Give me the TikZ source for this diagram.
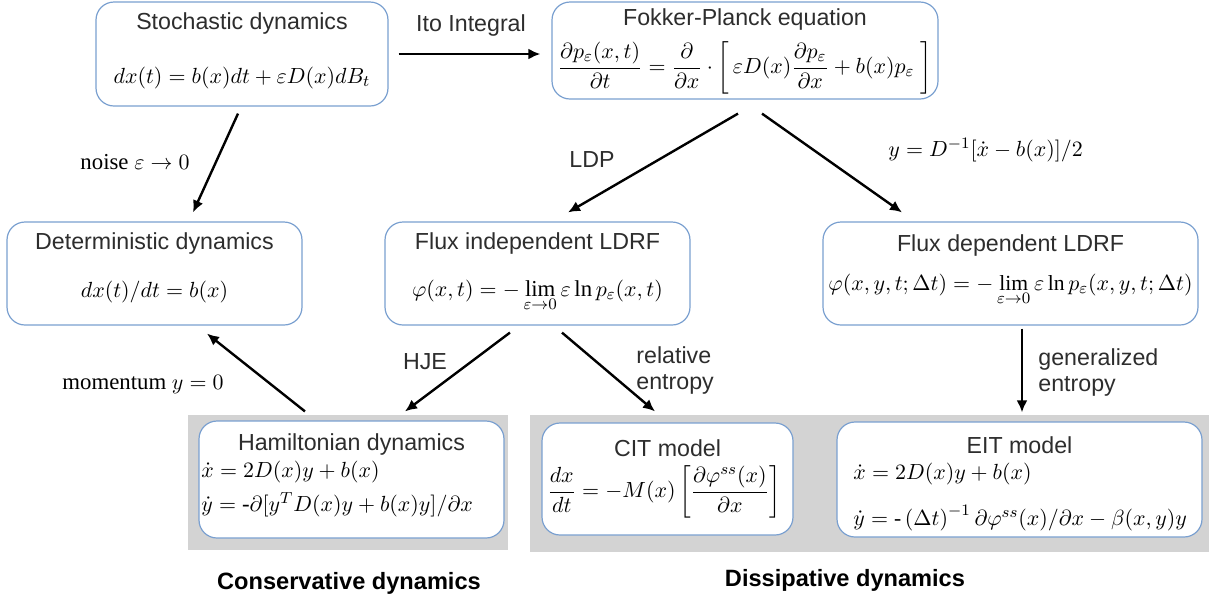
\documentclass[tikz,border=0pt]{standalone}
\usepackage{amsmath}
\usepackage{fontspec}
\setmainfont{Liberation Serif}
\setsansfont{Liberation Sans}
\usepackage{tikz}
\usetikzlibrary{arrows.meta,positioning}
\definecolor{boxline}{RGB}{122,160,208}
\definecolor{panelgray}{RGB}{211,211,211}
\definecolor{titlegray}{RGB}{45,45,45}
\tikzset{
	box/.style={draw=boxline, line width=0.6pt, rounded corners=9pt, fill=white, inner sep=0pt},
	panel/.style={fill=panelgray, inner sep=0pt},
	title/.style={font=\sffamily\fontsize{11.6}{13}\selectfont, text=titlegray, inner sep=0pt},
	formula/.style={font=\fontsize{11.4}{13}\selectfont, inner sep=0pt},
	smallformula/.style={font=\fontsize{10.8}{12}\selectfont, inner sep=0pt},
	lbl/.style={font=\sffamily\fontsize{11.6}{13}\selectfont, text=titlegray, inner sep=1pt},
	arr/.style={line width=1.2pt, -{Latex[length=6pt,width=5.5pt]}},
}
\begin{document}
\begin{tikzpicture}[x=0.5pt,y=-0.5pt]
		\useasboundingbox (0,0) rectangle (1217,602);
		\node[panel, minimum width=160pt, minimum height=67.5pt] (conspanel) at (348,482.5) {};
		\node[panel, minimum width=339.5pt, minimum height=68.5pt] (disspanel) at (869.5,483.5) {};

		\node[box, minimum width=146pt, minimum height=52pt] (stoch) at (242,54) {};
		\node[box, minimum width=193pt, minimum height=48.5pt] (fp) at (745,50.5) {};
		\node[box, minimum width=147.5pt, minimum height=51.5pt] (det) at (154.5,273.5) {};
		\node[box, minimum width=152.5pt, minimum height=51.5pt] (fli) at (537.5,273.5) {};
		\node[box, minimum width=187.5pt, minimum height=51.5pt] (fld) at (1010.5,273.5) {};
		\node[box, minimum width=152.5pt, minimum height=58.5pt] (ham) at (351.5,479.5) {};
		\node[box, minimum width=125.5pt, minimum height=56pt] (cit) at (667.5,479) {};
		\node[box, minimum width=182.5pt, minimum height=57.5pt] (eit) at (1019.5,479.5) {};

		\node[title] (stochtitle) at (242,23) {Stochastic dynamics};
		\node[smallformula] (stocheq) at (242,78) {$dx(t)=b(x)dt+\varepsilon D(x)dB_t$};
		\node[title] (fptitle) at (745,19) {Fokker-Planck equation};
		\node[smallformula] (fpeq) at (745,68) {$\dfrac{\partial p_\varepsilon(x,t)}{\partial t}=\dfrac{\partial}{\partial x}\cdot\left[\,\varepsilon D(x)\dfrac{\partial p_\varepsilon}{\partial x}+b(x)p_\varepsilon\;\right]$};
		\node[title] (dettitle) at (154.5,243) {Deterministic dynamics};
		\node[formula] (deteq) at (154.5,292) {$dx(t)/dt=b(x)$};
		\node[title] (flititle) at (537.5,243) {Flux independent LDRF};
		\node[formula, anchor=base] (flieq) at (537.5,296) {$\varphi(x,t)=-\lim\limits_{\varepsilon\to0}\varepsilon\ln p_\varepsilon(x,t)$};
		\node[title] (fldtitle) at (1010.5,245) {Flux dependent LDRF};
		\node[smallformula, anchor=base] (fldeq) at (1010.5,290) {$\varphi(x,y,t;\Delta t)=-\lim\limits_{\varepsilon\to0}\varepsilon\ln p_\varepsilon(x,y,t;\Delta t)$};
		\node[title] (hamtitle) at (351.5,444) {Hamiltonian dynamics};
		\node[formula, anchor=west] (hamxeq) at (201,472) {$\dot x=2D(x)y+b(x)$};
		\node[formula, anchor=west] (hamyeq) at (201,505) {$\dot y=\mbox{-}\partial[y^TD(x)y+b(x)y]/\partial x$};
		\node[title] (cittitle) at (667.5,448) {CIT model};
		\node[formula] (citeq) at (664,492) {$\dfrac{dx}{dt}=-M(x)\left[\dfrac{\partial\varphi^{ss}(x)}{\partial x}\right]$};
		\node[title] (eittitle) at (1019.5,445) {EIT model};
		\node[formula, anchor=west] (eitxeq) at (853,474) {$\dot x=2D(x)y+b(x)$};
		\node[smallformula, anchor=west] (eityeq) at (853,518) {$\dot y=\mbox{-}\left(\Delta t\right)^{-1}\partial\varphi^{ss}(x)/\partial x-\beta(x,y)y$};

		\node[lbl] (itolbl) at (471,25) {Ito Integral};
		\node[formula] (noiselbl) at (135,162) {noise $\varepsilon\to0$};
		\node[lbl] (ldplbl) at (592,160) {LDP};
		\node[formula, anchor=west] (ylbl) at (888,150) {$y=D^{-1}[\dot x-b(x)]/2$};
		\node[formula] (momlbl) at (143,385) {momentum $y=0$};
		\node[lbl] (hjelbl) at (425,362) {HJE};
		\node[lbl, anchor=west, align=left] (rellbl) at (634,370) {relative\\entropy};
		\node[lbl, anchor=west, align=left] (genlbl) at (1036,372) {generalized\\entropy};
		\node[font=\sffamily\bfseries\fontsize{11.8}{13}\selectfont] (conslbl) at (349,583) {Conservative dynamics};
		\node[font=\sffamily\bfseries\fontsize{11.8}{13}\selectfont] (disslbl) at (845,580) {Dissipative dynamics};

		\draw[arr] ([xshift=5pt]stoch.east) -- ([xshift=-5.5pt,yshift=-1.75pt]fp.west);
		\draw[arr] ([xshift=-2pt,yshift=-3.5pt]stoch.south) -- ([xshift=19.25pt,yshift=4.5pt]det.north);
		\draw[arr] ([xshift=-3.5pt,yshift=-7pt]fp.south) -- ([xshift=15.25pt,yshift=4.5pt]fli.north);
		\draw[arr] ([xshift=8.5pt,yshift=-7pt]fp.south) -- ([xshift=-54.25pt,yshift=4.5pt]fld.north);
		\draw[arr] ([xshift=-23.25pt,yshift=4.5pt]ham.north) -- ([xshift=26.25pt,yshift=-4pt]det.south);
		\draw[arr] ([xshift=-13.75pt,yshift=-3.5pt]fli.south) -- ([xshift=26.75pt,yshift=4.5pt]ham.north);
		\draw[arr] ([xshift=12.25pt,yshift=-3.5pt]fli.south) -- ([xshift=-6.25pt,yshift=5.5pt]cit.north);
		\draw[arr] ([xshift=5.75pt,yshift=-1.5pt]fld.south) -- ([xshift=1.25pt,yshift=4.5pt]eit.north);
\end{tikzpicture}
\end{document}
